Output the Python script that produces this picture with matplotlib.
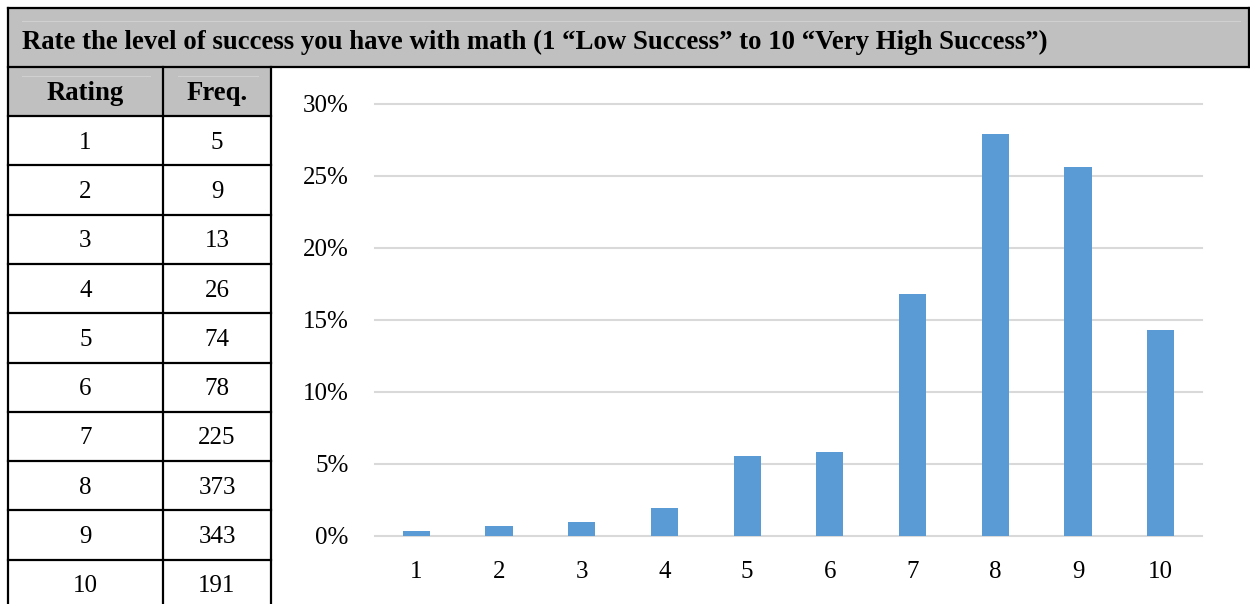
import matplotlib
matplotlib.use('Agg')
import matplotlib.pyplot as plt
from matplotlib.patches import Rectangle
from matplotlib.lines import Line2D

# Data
title = 'Rate the level of success you have with math (1 \u201cLow Success\u201d to 10 \u201cVery High Success\u201d)'
ratings = [1, 2, 3, 4, 5, 6, 7, 8, 9, 10]
freq = [5, 9, 13, 26, 74, 78, 225, 373, 343, 191]
col_headers = ['Rating', 'Freq.']
yticks = [0, 0.05, 0.10, 0.15, 0.20, 0.25, 0.30]

total = sum(freq)
pct = [f / total for f in freq]

plt.rcParams['font.family'] = ['Liberation Serif', 'DejaVu Serif']

W, H = 1250, 604
fig = plt.figure(figsize=(W / 100, H / 100), dpi=100)

def fx(x):
    return x / W

def fy(y):
    return 1 - y / H

def hline(y, x0, x1, color='black', lw=1.6):
    fig.add_artist(Line2D([fx(x0), fx(x1)], [fy(y), fy(y)], color=color, lw=lw))

def vline(x, y0, y1, color='black', lw=1.6):
    fig.add_artist(Line2D([fx(x), fx(x)], [fy(y0), fy(y1)], color=color, lw=lw))

# title bar
fig.add_artist(Rectangle((fx(8), fy(67)), fx(1250 - 8), 59 / H, facecolor='#c0c0c0', edgecolor='none'))
hline(21, 22, 1240, color='#d0d0d0', lw=0.8)
fig.text(fx(22), fy(42), title, fontsize=19.3, fontweight='bold', va='center', ha='left')

# table header
left, mid, right = 8, 163, 271
fig.add_artist(Rectangle((fx(left), fy(116)), fx(right - left), 49 / H, facecolor='#c0c0c0', edgecolor='none'))
hline(76, 22, 150, color='#d0d0d0', lw=0.8)
hline(76, 178, 258, color='#d0d0d0', lw=0.8)
fig.text(fx((left + mid) / 2), fy(94), col_headers[0], fontsize=19.3, fontweight='bold', ha='center', va='center')
fig.text(fx((mid + right) / 2), fy(94), col_headers[1], fontsize=19.3, fontweight='bold', ha='center', va='center')

# table body
row_top = 116
row_h = 49.3
for i, (r, f) in enumerate(zip(ratings, freq)):
    yc = row_top + row_h * (i + 0.5) + 2
    fig.text(fx((left + mid) / 2), fy(yc), str(r), fontsize=18, ha='center', va='center')
    fig.text(fx((mid + right) / 2), fy(yc), str(f), fontsize=18, ha='center', va='center')
    hline(row_top + row_h * (i + 1), left, right)

# borders
hline(8, left, 1250)
hline(67, left, 1250)
hline(116, left, right)
vline(left, 8, 604)
vline(mid, 67, 604)
vline(right, 67, 604)
vline(1249, 8, 67)

# chart
ax = fig.add_axes([fx(375), fy(536), fx(1202 - 375), (536 - 104) / H])
ax.bar(ratings, pct, width=0.33, color='#5b9bd5', zorder=3)
ax.set_xlim(0.5, 10.5)
ax.set_ylim(0, 0.30)
ax.set_yticks(yticks)
ax.set_yticklabels(['%d%%' % round(t * 100) for t in yticks])
ax.set_xticks(ratings)
ax.set_xticklabels([str(r) for r in ratings])
ax.grid(axis='y', color='#d9d9d9', lw=1.5, zorder=0)
for s in ax.spines.values():
    s.set_visible(False)
ax.tick_params(length=0, labelsize=18)
ax.tick_params(axis='y', pad=19)
ax.tick_params(axis='x', pad=18)
for gl in ax.get_ygridlines():
    gl.set_clip_on(False)

fig.savefig('out.png', dpi=100)
